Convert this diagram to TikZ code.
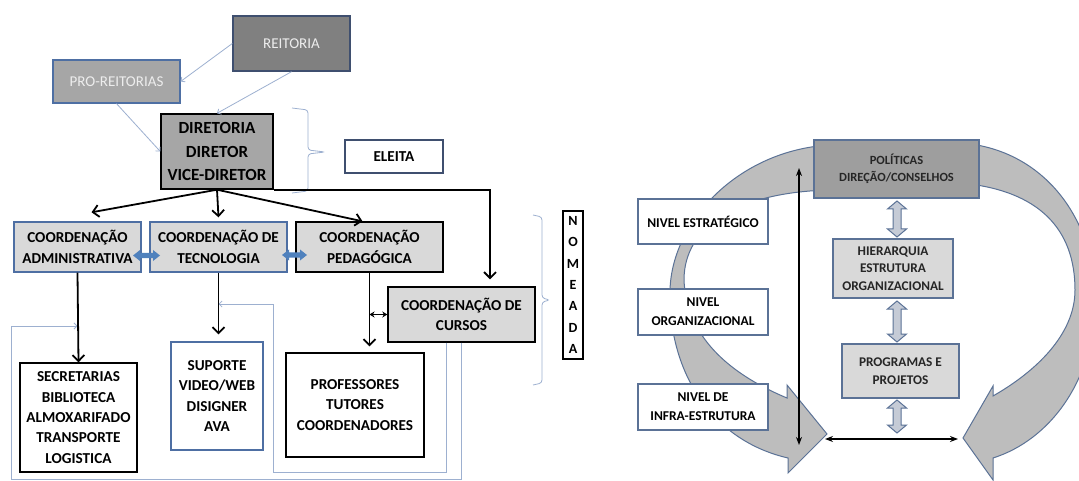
\documentclass[tikz,border=0pt]{standalone}
\usepackage{fontspec}
\setmainfont{Carlito}
\usetikzlibrary{arrows.meta,calc}
\definecolor{bblue}{HTML}{4E6FA3}
\definecolor{lconn}{HTML}{9DB0D0}
\definecolor{dgray}{HTML}{808080}
\definecolor{mgray}{HTML}{A6A6A6}
\definecolor{lgray}{HTML}{D9D9D9}
\definecolor{navy}{HTML}{3F4F6F}
\definecolor{slate}{HTML}{5B7296}
\definecolor{bandgray}{HTML}{BDBDBD}
\definecolor{fatfill}{HTML}{C5CBD6}
\definecolor{fblue}{HTML}{4F81BD}
\definecolor{txtdark}{HTML}{262626}
\newcommand\fatH[3]{\fill[fblue] (#1,#3) -- (#1+7,#3-5.5) -- (#1+7,#3-2.5) -- (#2-7,#3-2.5) -- (#2-7,#3-5.5) -- (#2,#3) -- (#2-7,#3+5.5) -- (#2-7,#3+2.5) -- (#1+7,#3+2.5) -- (#1+7,#3+5.5) -- cycle;}
\newcommand\fatV[3]{\filldraw[fill=fatfill,draw=slate,line width=1pt] (#1,#2) -- (#1+9.5,#2+8) -- (#1+4,#2+8) -- (#1+4,#3-8) -- (#1+9.5,#3-8) -- (#1,#3) -- (#1-9.5,#3-8) -- (#1-4,#3-8) -- (#1-4,#2+8) -- (#1-9.5,#2+8) -- cycle;}
\begin{document}
\begin{tikzpicture}[x=1pt,y=-1pt,
  bx/.style={draw, rectangle, inner sep=0pt, align=center, line width=1.4pt},
  lbold/.style={font=\bfseries\fontsize{15.2}{20.3}\selectfont},
  rbold/.style={font=\bfseries\fontsize{12.5}{17.5}\selectfont, text=txtdark},
  rbold2/.style={font=\bfseries\fontsize{13.3}{17.5}\selectfont, text=txtdark},
  nbold/.style={font=\bfseries\fontsize{13.5}{19}\selectfont},
  blk/.style={line width=1.8pt, -{Straight Barb[length=6pt,width=12pt]}},
  lthin/.style={draw=lconn, line width=0.8pt, -{Straight Barb[length=3pt,width=6pt]}},
  brc/.style={draw=lconn, line width=0.8pt, rounded corners=3pt},
  band/.style={fill=bandgray, draw=slate, line width=1pt},
  thinblk/.style={line width=1.3pt, {Stealth[length=8pt,width=6pt]}-{Stealth[length=8pt,width=6pt]}}
]
\useasboundingbox[fill=white] (0,0) rectangle (1079,481);

% ---------- left diagram ----------
\node[bx, fill=dgray, draw=navy, minimum width=117, minimum height=55, font=\fontsize{15}{18}\selectfont, text=white!93!black] (reit) at (291.5,43.5) {REITORIA};
\node[bx, fill=mgray, draw=bblue, line width=1.2pt, minimum width=127, minimum height=43, font=\fontsize{15}{18}\selectfont, text=white!93!black] (pro) at (116.5,81.5) {PRO-REITORIAS};
\node[bx, fill=mgray, minimum width=112, minimum height=75, font=\bfseries\fontsize{17}{23.5}\selectfont] (dir) at (217,151.5) {DIRETORIA\\DIRETOR\\VICE-DIRETOR};
\node[bx, fill=white, draw=navy, line width=1.2pt, minimum width=98, minimum height=33, lbold] (ele) at (394,156.5) {ELEITA};

\node[bx, fill=lgray, draw=bblue, minimum width=127, minimum height=50, lbold] (adm) at (77.5,247) {COORDENAÇÃO\\ADMINISTRATIVA};
\node[bx, fill=lgray, draw=bblue, minimum width=137, minimum height=50, lbold] (tec) at (218.5,247) {COORDENAÇÃO DE\\TECNOLOGIA};
\node[bx, fill=lgray, minimum width=147, minimum height=50, lbold] (ped) at (369.5,247) {COORDENAÇÃO\\PEDAGÓGICA};
\node[bx, fill=lgray, minimum width=147, minimum height=55, lbold] (cur) at (461.5,314.5) {COORDENAÇÃO DE\\CURSOS};

\node[bx, fill=white, minimum width=117, minimum height=109, lbold] (sec) at (78.5,417.5) {SECRETARIAS\\BIBLIOTECA\\ALMOXARIFADO\\TRANSPORTE\\LOGISTICA};
\node[bx, fill=white, draw=bblue, line width=1.2pt, minimum width=92, minimum height=108, lbold] (sup) at (217,396) {SUPORTE\\VIDEO/WEB\\DISIGNER\\AVA};
\node[bx, fill=white, minimum width=138, minimum height=104, lbold] (prof) at (355,405) {PROFESSORES\\TUTORES\\COORDENADORES};
\node[bx, fill=white, minimum width=20, minimum height=148, font=\bfseries\fontsize{14}{21.3}\selectfont] (nom) at (573,285) {N\\O\\M\\E\\A\\D\\A};

% light connectors
\draw[lthin] (reit.west) -- (pro.east);
\draw[lthin] (reit.south) -- (dir.north);
\draw[lthin] (pro.south) -- (dir.west);
\draw[lthin] ($(cur.south west)+(59,0)$) -- ++(0,130) -| (273,304) -- (tec.south |- 0,304);
\draw[lthin] ($(cur.south west)+(74,0)$) -- ++(0,137) -| (11,326) -- (adm.south |- 0,326);

% braces
\draw[brc] (292,108) -- (308,110) -- (308,150) -- (325,152) -- (308,154) -- (308,191) -- (292,193);
\draw[brc] (533,215) -- (542,217) -- (542,298) -- (550,300) -- (542,302) -- (542,383) -- (533,385);

% black connectors
\draw[blk] (dir.south) -- ($(adm.north)+(14,-9)$);
\draw[blk] (dir.south) -- ($(tec.north)+(0,-4)$);
\draw[blk] (dir.south) -- ($(ped.north)+(-7,0)$);
\draw[blk] (dir.south east) -| ($(cur.north)+(28.5,-7)$);
\draw[blk] (adm.south) -- (sec.north);
\draw[blk, shorten >=7pt] (tec.south) -- (tec.south |- sup.north);
\draw[blk, shorten >=6pt] (ped.south) -- (ped.south |- prof.north);
\draw[line width=1.6pt, {Stealth[length=5pt,width=6pt]}-{Stealth[length=5pt,width=6pt]}] (ped.south |- cur.west) -- (cur.west);

% fat blue double arrows
\fatH{133}{160}{255.5}
\fatH{282}{307}{255}

% ---------- right diagram ----------
\filldraw[band] (830,145) .. controls (740,150) and (672,220) .. (670,290) .. controls (668,370) and (710,440) .. (788,458) -- (788,473) -- (827,434) -- (787,385) -- (787,398) .. controls (720,370) and (686,330) .. (684,280) .. controls (684,225) and (740,192) .. (830,190) -- cycle;
\filldraw[band] (960,143) .. controls (1040,148) and (1095,215) .. (1095,300) .. controls (1095,380) and (1050,440) .. (993,458) -- (993,480) -- (963,438) -- (993,386) -- (993,396) .. controls (1035,372) and (1075,335) .. (1075,290) .. controls (1075,230) and (1040,190) .. (960,183) -- cycle;

\node[bx, fill=mgray!95!black, draw=slate, line width=1.2pt, minimum width=165, minimum height=58, rbold] (pol) at (896.5,169) {POLÍTICAS\\DIREÇÃO/CONSELHOS};
\node[bx, fill=lgray, draw=slate, line width=1.2pt, minimum width=120, minimum height=59, rbold2] (hier) at (893,268.5) {HIERARQUIA\\ESTRUTURA\\ORGANIZACIONAL};
\node[bx, fill=lgray, draw=slate, line width=1.2pt, minimum width=117, minimum height=54, rbold2] (prog) at (900.5,371) {PROGRAMAS E\\PROJETOS};

\node[bx, fill=white, draw=slate, line width=1.2pt, minimum width=130, minimum height=45, nbold] (n1) at (703,221.5) {NIVEL ESTRATÉGICO};
\node[bx, fill=white, draw=slate, line width=1.2pt, minimum width=130, minimum height=46, nbold] (n2) at (703,312) {NIVEL\\ORGANIZACIONAL};
\node[bx, fill=white, draw=slate, line width=1.2pt, minimum width=130, minimum height=46, nbold] (n3) at (703,407) {NIVEL DE\\INFRA-ESTRUTURA};

\fatV{897}{201}{237}
\fatV{897}{301}{342}
\fatV{897}{400}{433}

\coordinate (vtop) at (799,168);
\coordinate (vbot) at (799,445);
\coordinate (hl) at (825,439);
\coordinate (hr) at (958,439);
\draw[thinblk] (vtop) -- (vbot);
\draw[thinblk] (hl) -- (hr);
\end{tikzpicture}
\end{document}
